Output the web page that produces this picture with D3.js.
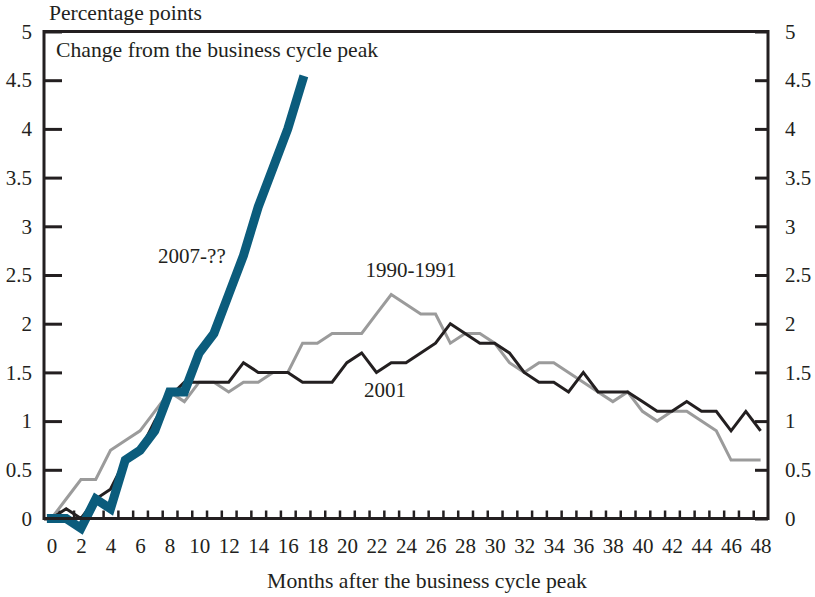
<!DOCTYPE html>
<html>
<head>
<meta charset="utf-8">
<script src="https://cdn.jsdelivr.net/npm/d3@7"></script>
<style>
  body { margin: 0; background: #fff; }
  text { font-family: "Liberation Serif", "Times New Roman", serif; fill: #231f20; }
</style>
</head>
<body>
<div class="chart"></div>
<script>
// months after the business cycle peak
const months = d3.range(0, 49)
const xTickLabels = d3.range(0, 49, 2)
const yTicks = [0, 0.5, 1, 1.5, 2, 2.5, 3, 3.5, 4, 4.5, 5]

// change in unemployment rate from the peak, percentage points
const recession1990 = [0, 0.2, 0.4, 0.4, 0.7, 0.8, 0.9, 1.1, 1.3, 1.2, 1.4, 1.4, 1.3, 1.4, 1.4, 1.5, 1.5,
  1.8, 1.8, 1.9, 1.9, 1.9, 2.1, 2.3, 2.2, 2.1, 2.1, 1.8, 1.9, 1.9, 1.8, 1.6, 1.5, 1.6, 1.6,
  1.5, 1.4, 1.3, 1.2, 1.3, 1.1, 1.0, 1.1, 1.1, 1.0, 0.9, 0.6, 0.6, 0.6]
const recession2001 = [0, 0.1, 0, 0.2, 0.3, 0.6, 0.7, 1.0, 1.25, 1.4, 1.4, 1.4, 1.4, 1.6, 1.5, 1.5, 1.5,
  1.4, 1.4, 1.4, 1.6, 1.7, 1.5, 1.6, 1.6, 1.7, 1.8, 2.0, 1.9, 1.8, 1.8, 1.7, 1.5, 1.4, 1.4,
  1.3, 1.5, 1.3, 1.3, 1.3, 1.2, 1.1, 1.1, 1.2, 1.1, 1.1, 0.9, 1.1, 0.9]
const recession2007 = [0, 0, -0.1, 0.2, 0.1, 0.6, 0.7, 0.9, 1.3, 1.3, 1.7, 1.9, 2.3, 2.7, 3.2, 3.6, 4.0, 4.5]

const seriesLabels = [
  { text: '2007-??', month: 7.22, value: 2.62, anchor: 'start' },
  { text: '1990-1991', month: 24.34, value: 2.48, anchor: 'middle' },
  { text: '2001', month: 21.16, value: 1.25, anchor: 'start' }
]

const width = 815
const height = 597
const plot = { left: 44, right: 768, top: 31.5, bottom: 518.5 }
const ink = '#231f20'

const svg = d3.select('.chart')
  .append('svg')
  .attr('width', width)
  .attr('height', height)

const xScale = d3.scaleLinear()
  .domain([-0.5, 48.5])
  .range([plot.left, plot.right])

const yScale = d3.scaleLinear()
  .domain([0, 5])
  .range([plot.bottom, plot.top])

// y axes, ticks pointing inward
svg.append('g')
  .attr('transform', `translate(${plot.left},0)`)
  .call(d3.axisLeft(yScale).tickValues(yTicks).tickSize(-18).tickPadding(12).tickFormat(d3.format('~g')))
svg.append('g')
  .attr('transform', `translate(${plot.right},0)`)
  .call(d3.axisRight(yScale).tickValues(yTicks).tickSize(-13).tickPadding(17).tickFormat(d3.format('~g')))

// x ticks at month boundaries, labels at month centres
const xTicks = svg.append('g')
  .attr('transform', `translate(0,${plot.bottom})`)
  .call(d3.axisBottom(xScale).tickValues(d3.range(0.5, 48, 1)).tickSize(-8).tickFormat(''))
svg.append('g')
  .attr('transform', `translate(0,${plot.bottom})`)
  .call(d3.axisBottom(xScale).tickValues(xTickLabels).tickSize(0).tickPadding(20))

svg.selectAll('.domain').remove()
svg.selectAll('.tick line').attr('stroke', ink).attr('stroke-width', 3)
xTicks.selectAll('.tick line').attr('stroke-width', 2.5)
svg.selectAll('.tick text')
  .style('font-family', '"Liberation Serif", serif')
  .style('font-size', '21px')
  .attr('fill', ink)

// lines
const line = d3.line()
  .x((d, i) => xScale(months[i]))
  .y(d => yScale(d))

svg.append('path')
  .datum(recession1990)
  .attr('d', line)
  .attr('fill', 'none')
  .attr('stroke', '#9b9b9b')
  .attr('stroke-width', 3)

svg.append('path')
  .datum(recession2001)
  .attr('d', line)
  .attr('fill', 'none')
  .attr('stroke', ink)
  .attr('stroke-width', 3)

svg.append('path')
  .datum(recession2007)
  .attr('d', line)
  .attr('fill', 'none')
  .attr('stroke', '#0b5c7c')
  .attr('stroke-width', 9)
  .attr('stroke-linecap', 'square')

// frame
svg.append('rect')
  .attr('x', plot.left)
  .attr('y', plot.top)
  .attr('width', plot.right - plot.left)
  .attr('height', plot.bottom - plot.top)
  .attr('fill', 'none')
  .attr('stroke', ink)
  .attr('stroke-width', 3)

// labels
svg.selectAll('.series-label')
  .data(seriesLabels)
  .enter()
  .append('text')
  .attr('class', 'series-label')
  .attr('x', d => xScale(d.month))
  .attr('y', d => yScale(d.value))
  .attr('text-anchor', d => d.anchor)
  .style('font-size', '21px')
  .text(d => d.text)

svg.append('text')
  .attr('x', 49)
  .attr('y', 20)
  .style('font-size', '21.6px')
  .text('Percentage points')

svg.append('text')
  .attr('x', 56)
  .attr('y', 57)
  .style('font-size', '21.7px')
  .text('Change from the business cycle peak')

svg.append('text')
  .attr('x', (267 + 587) / 2)
  .attr('y', 588)
  .attr('text-anchor', 'middle')
  .style('font-size', '21.7px')
  .text('Months after the business cycle peak')
</script>
</body>
</html>
